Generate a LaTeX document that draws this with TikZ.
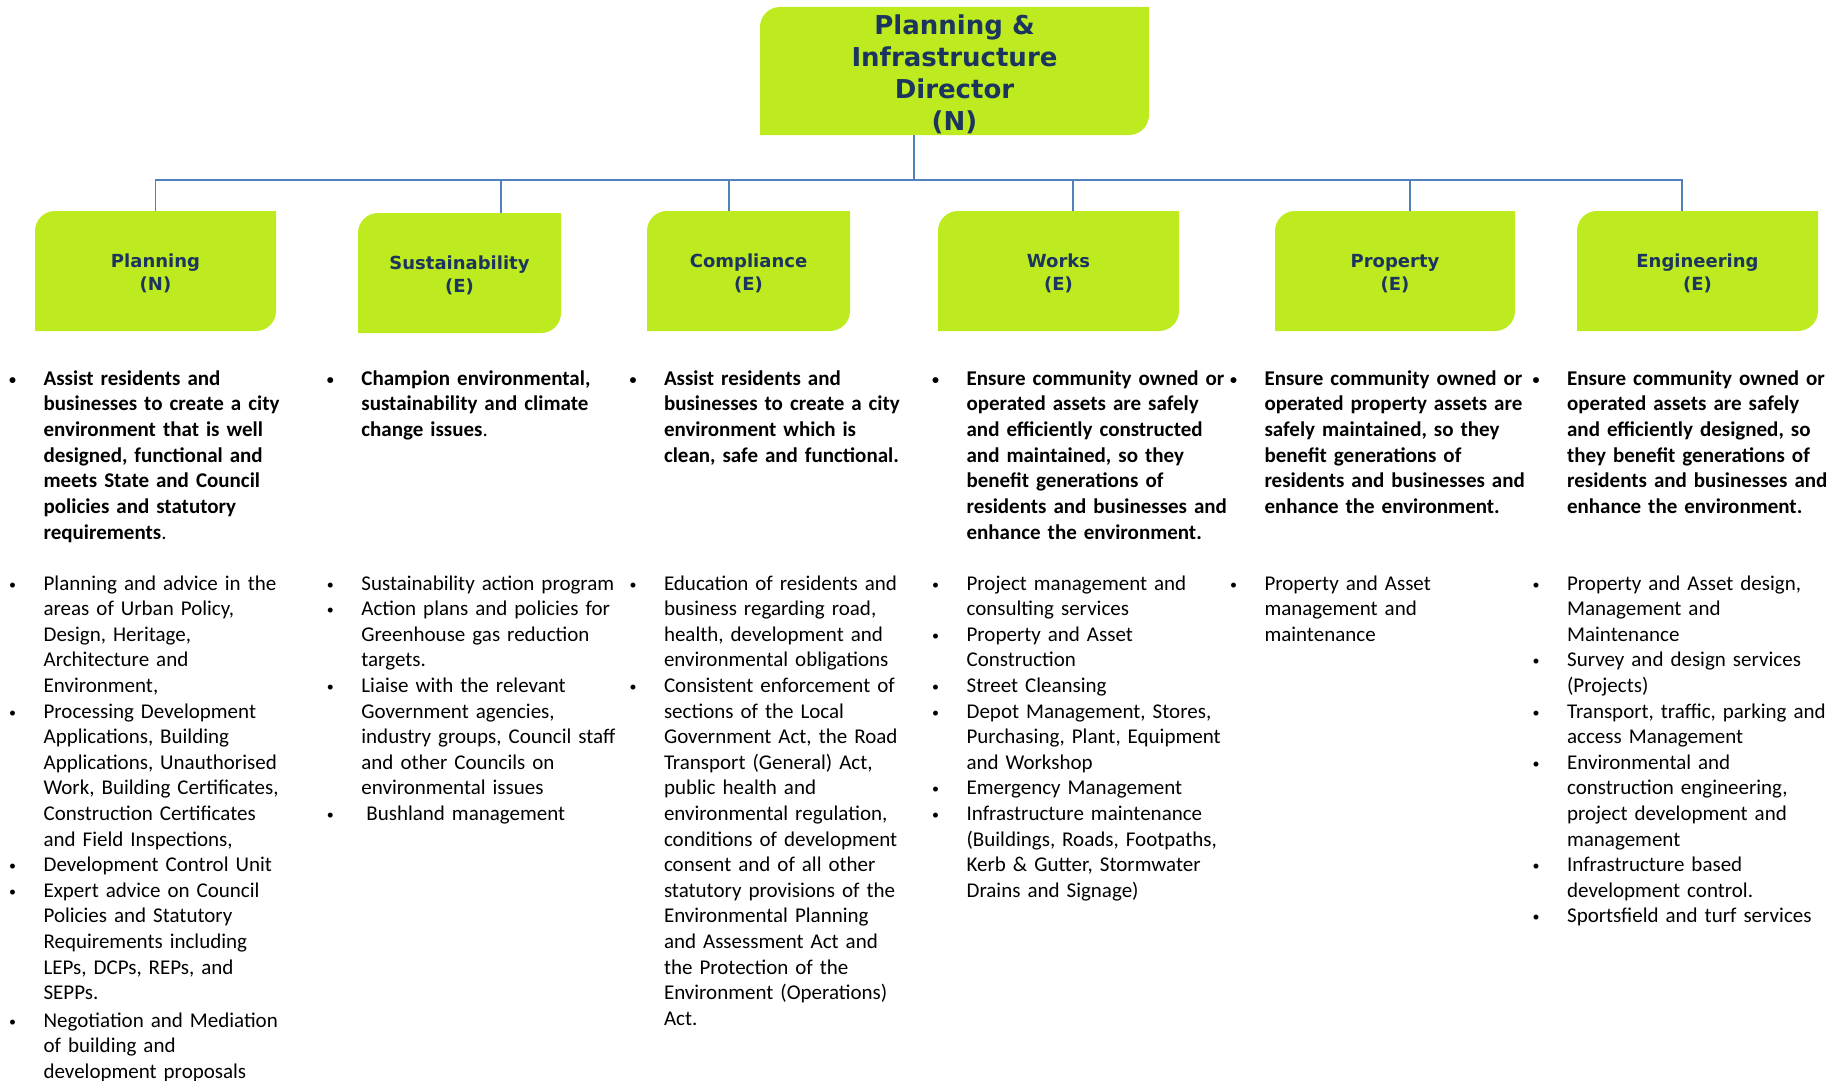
\documentclass[tikz,border=0pt]{standalone}
\usepackage{fontspec}
\usepackage{tikz}
\newfontfamily\bodyfont{Carlito}
\newfontfamily\headfont{DejaVu Sans}
\definecolor{unitgreen}{HTML}{BDEB1F}
\definecolor{unitnavy}{HTML}{1C355E}
\definecolor{linkblue}{HTML}{4F81BD}
\newcommand\bul{\leavevmode\llap{\raisebox{1pt}{\fontsize{14}{14}\selectfont\textbullet}\hspace{27.5pt}}}
\newcommand\up[1]{\rule{0pt}{#1}}

\begin{document}
\begin{tikzpicture}[x=1pt,y=-1pt,
  unit/.style={inner sep=0pt,outer sep=0pt,align=center,text=unitnavy,
    font=\headfont\bfseries\fontsize{18}{22.5}\selectfont,
    path picture={\fill[unitgreen] (path picture bounding box.south west)
      -- ([yshift=-20pt]path picture bounding box.north west)
      arc[start angle=180,end angle=90,radius=20pt]
      -- (path picture bounding box.north east)
      -- ([yshift=20pt]path picture bounding box.south east)
      arc[start angle=0,end angle=-90,radius=20pt] -- cycle;}},
  aim/.style={anchor=base west,inner sep=0pt,text width=300pt,align=left,
    font=\bodyfont\bfseries\fontsize{21}{25.7}\selectfont},
  task/.style={aim,font=\bodyfont\fontsize{21}{25.6}\selectfont},
  link/.style={linkblue,line width=1.4pt}]
\useasboundingbox (0,0) rectangle (1839,1081);

% director and units
\node[unit,minimum width=389pt,minimum height=128pt,
  font=\headfont\bfseries\fontsize{26}{32}\selectfont] (dir) at (954.5,71)
  {\up{26pt}Planning \&\\Infrastructure\\Director\\(N)};
\node[unit,minimum width=241pt,minimum height=120pt] (plan) at (155.5,271) {\up{18.3pt}Planning\\(N)};
\node[unit,minimum width=203pt,minimum height=120pt] (sust) at (459.5,273) {\up{18.3pt}Sustainability\\(E)};
\node[unit,minimum width=203pt,minimum height=120pt] (comp) at (748.5,271) {\up{18.3pt}Compliance\\(E)};
\node[unit,minimum width=241pt,minimum height=120pt] (works) at (1058.5,271) {\up{18.3pt}Works\\(E)};
\node[unit,minimum width=240pt,minimum height=120pt] (prop) at (1395,271) {\up{18.3pt}Property\\(E)};
\node[unit,minimum width=241pt,minimum height=120pt] (eng) at (1697.5,271) {\up{18.3pt}Engineering\\(E)};

% connectors
\coordinate (bus) at (914,180);
\draw[link] (dir.south -| bus) -- (bus);
\foreach \u/\dx in {plan/0,sust/41.5,comp/-19.5,works/14.5,prop/15,eng/-15.5}
  \draw[link] (bus) -| ([xshift=\dx pt]\u.north);

% aims
\node[aim] (planAim) at (43.4,385) {\bul Assist residents and\\businesses to create a city\\environment that is well\\designed, functional and\\meets State and Council\\policies and statutory\\requirements{\mdseries.}};
\node[aim] (sustAim) at (361.2,385) {\bul Champion environmental,\\sustainability and climate\\change issues{\mdseries.}};
\node[aim] (compAim) at (663.8,385) {\bul Assist residents and\\businesses to create a city\\environment which is\\clean, safe and functional.};
\node[aim] (worksAim) at (966.4,385) {\bul Ensure community owned or\\operated assets are safely\\and efficiently constructed\\and maintained, so they\\benefit generations of\\residents and businesses and\\enhance the environment.};
\node[aim] (propAim) at (1264.3,385) {\bul Ensure community owned or\\operated property assets are\\safely maintained, so they\\benefit generations of\\residents and businesses and\\enhance the environment.};
\node[aim] (engAim) at (1566.9,385) {\bul Ensure community owned or\\operated assets are safely\\and efficiently designed, so\\they benefit generations of\\residents and businesses and\\enhance the environment.};

% tasks
\node[task] (planTasks) at (43.4,590) {\bul Planning and advice in the\\areas of Urban Policy,\\Design, Heritage,\\Architecture and\\Environment,\\
\bul Processing Development\\Applications, Building\\Applications, Unauthorised\\Work, Building Certificates,\\Construction Certificates\\and Field Inspections,\\
\bul Development Control Unit\\
\bul Expert advice on Council\\Policies and Statutory\\Requirements including\\LEPs, DCPs, REPs, and\\SEPPs.\\[2pt]
\bul Negotiation and Mediation\\of building and\\development proposals};
\node[task] (sustTasks) at (361.2,590) {\bul Sustainability action program\\
\bul Action plans and policies for\\Greenhouse gas reduction\\targets.\\
\bul Liaise with the relevant\\Government agencies,\\industry groups, Council staff\\and other Councils on\\environmental issues\\
\bul\hspace{5pt}Bushland management};
\node[task] (compTasks) at (663.8,590) {\bul Education of residents and\\business regarding road,\\health, development and\\environmental obligations\\
\bul Consistent enforcement of\\sections of the Local\\Government Act, the Road\\Transport (General) Act,\\public health and\\environmental regulation,\\conditions of development\\consent and of all other\\statutory provisions of the\\Environmental Planning\\and Assessment Act and\\the Protection of the\\Environment (Operations)\\Act.};
\node[task] (worksTasks) at (966.4,590) {\bul Project management and\\consulting services\\
\bul Property and Asset\\Construction\\
\bul Street Cleansing\\
\bul Depot Management, Stores,\\Purchasing, Plant, Equipment\\and Workshop\\
\bul Emergency Management\\
\bul Infrastructure maintenance\\(Buildings, Roads, Footpaths,\\Kerb \& Gutter, Stormwater\\Drains and Signage)};
\node[task] (propTasks) at (1264.3,590) {\bul Property and Asset\\management and\\maintenance};
\node[task] (engTasks) at (1566.9,590) {\bul Property and Asset design,\\Management and\\Maintenance\\
\bul Survey and design services\\(Projects)\\
\bul Transport, traffic, parking and\\access Management\\
\bul Environmental and\\construction engineering,\\project development and\\management\\
\bul Infrastructure based\\development control.\\
\bul Sportsfield and turf services};

\end{tikzpicture}
\end{document}
